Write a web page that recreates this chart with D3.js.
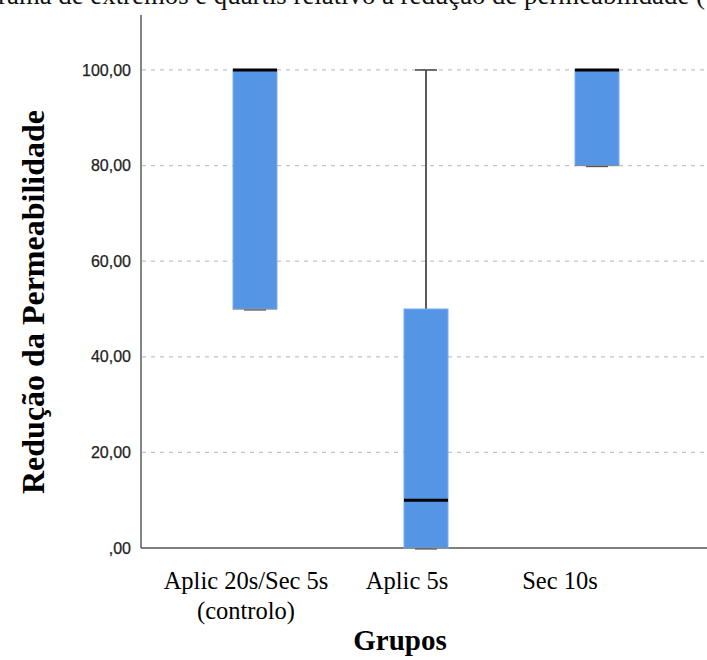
<!DOCTYPE html>
<html>
<head>
<meta charset="utf-8">
<script src="https://cdn.jsdelivr.net/npm/d3@7"></script>
<style>
  body { margin: 0; background: #fff; }
  svg { display: block; }
</style>
</head>
<body>
<div id="chart"></div>
<script>
// dados (caixa de extremos e quartis)
const grupos = ["Aplic 20s/Sec 5s|(controlo)", "Aplic 5s", "Sec 10s"];
const minimo = [50, 0, 80];
const q1 = [50, 0, 80];
const mediana = [100, 10, 100];
const q3 = [100, 50, 100];
const maximo = [100, 100, 100];
const yTicks = [0, 20, 40, 60, 80, 100];
const titulo = "Diagrama de extremos e quartis relativo à redução de permeabilidade (%)";

const W = 707, H = 660;
const svg = d3.select("#chart").append("svg")
    .attr("width", W)
    .attr("height", H);

// titulo cortado no topo (só a parte de baixo aparece)
svg.append("text")
    .attr("x", -54)
    .attr("y", 4)
    .style("font-family", "'Liberation Serif', 'Times New Roman', serif")
    .style("font-size", "26.8px")
    .style("fill", "#111")
    .text(titulo);

const x = d3.scalePoint()
    .domain(grupos)
    .range([143, 709])
    .padding(0.655);

const y = d3.scaleLinear()
    .domain([0, 111.5])
    .range([548, 15]);

// linhas de grelha
svg.append("g")
    .selectAll("line")
    .data(yTicks.filter(d => d > 0))
    .join("line")
    .attr("x1", 142)
    .attr("x2", W)
    .attr("y1", d => y(d))
    .attr("y2", d => y(d))
    .attr("stroke", "#c4c4c4")
    .attr("stroke-width", 1.2)
    .style("stroke-dasharray", ("4, 5"));

// eixo y
const yAxis = d3.axisLeft(y)
    .tickValues(yTicks)
    .tickSize(0)
    .tickPadding(10)
    .tickFormat(d => d === 0 ? ",00" : d3.format(".2f")(d).replace(".", ","));

const gy = svg.append("g")
    .attr("transform", "translate(141,0)")
    .call(yAxis);
gy.select(".domain").remove();
gy.selectAll("text")
    .style("font-family", "'Liberation Sans', Arial, sans-serif")
    .style("font-size", "16px")
    .style("fill", "#222")
    .style("stroke", "#222")
    .style("stroke-width", 0.25);

svg.append("line")
    .attr("x1", 141).attr("x2", 141)
    .attr("y1", y(111.5)).attr("y2", y(0))
    .attr("stroke", "#666")
    .attr("stroke-width", 1.6);

svg.append("line")
    .attr("x1", 141).attr("x2", W)
    .attr("y1", y(0)).attr("y2", y(0))
    .attr("stroke", "#555")
    .attr("stroke-width", 1.6);

// caixas
const larg = 44;
const caixas = svg.append("g");

grupos.forEach(function (g, i) {
    const cx = x(g);
    if (maximo[i] > q3[i]) {
        caixas.append("line")
            .attr("x1", cx).attr("x2", cx)
            .attr("y1", y(q3[i])).attr("y2", y(maximo[i]))
            .attr("stroke", "#333").attr("stroke-width", 1.6);
        caixas.append("line")
            .attr("x1", cx - 11).attr("x2", cx + 11)
            .attr("y1", y(maximo[i])).attr("y2", y(maximo[i]))
            .attr("stroke", "#444").attr("stroke-width", 1.5);
    }
    if (minimo[i] < q1[i]) {
        caixas.append("line")
            .attr("x1", cx).attr("x2", cx)
            .attr("y1", y(minimo[i])).attr("y2", y(q1[i]))
            .attr("stroke", "#333").attr("stroke-width", 1.6);
    }
    caixas.append("rect")
        .attr("x", cx - larg / 2)
        .attr("y", y(q3[i]))
        .attr("width", larg)
        .attr("height", y(q1[i]) - y(q3[i]))
        .attr("fill", "#5595e5")
        .attr("stroke", "#7eaeec")
        .attr("stroke-width", 1);
    caixas.append("line")
        .attr("x1", cx - larg / 2).attr("x2", cx + larg / 2)
        .attr("y1", y(q1[i])).attr("y2", y(q1[i]))
        .attr("stroke", "#888").attr("stroke-width", 1);
    // bigode inferior (cap)
    caixas.append("line")
        .attr("x1", cx - 11).attr("x2", cx + 11)
        .attr("y1", y(minimo[i]) + 1).attr("y2", y(minimo[i]) + 1)
        .attr("stroke", "#555").attr("stroke-width", 1.2);
    caixas.append("line")
        .attr("x1", cx - larg / 2).attr("x2", cx + larg / 2)
        .attr("y1", y(mediana[i])).attr("y2", y(mediana[i]))
        .attr("stroke", "#000").attr("stroke-width", 3);
});

// rotulos das categorias (colados por cima, ligeiramente desalinhados)
const xr = d3.scalePoint()
    .domain(grupos)
    .range([246, 560]);

const rot = svg.append("g")
    .style("font-family", "'Liberation Serif', 'Times New Roman', serif")
    .style("font-size", "24.5px")
    .style("fill", "#000")
    .attr("text-anchor", "middle");

grupos.forEach(function (g, i) {
    const partes = g.split("|");
    const cx = i === 1 ? 407 : xr(g);
    partes.forEach(function (p, k) {
        rot.append("text")
            .attr("x", cx)
            .attr("y", 589 + k * 30)
            .text(p);
    });
});

svg.append("text")
    .attr("x", 400)
    .attr("y", 650)
    .attr("text-anchor", "middle")
    .style("font-family", "'Liberation Serif', 'Times New Roman', serif")
    .style("font-weight", "bold")
    .style("font-size", "29px")
    .text("Grupos");

svg.append("text")
    .attr("transform", "translate(44,302) rotate(-90)")
    .attr("text-anchor", "middle")
    .style("font-family", "'Liberation Serif', 'Times New Roman', serif")
    .style("font-weight", "bold")
    .style("font-size", "32px")
    .text("Redução da Permeabilidade");
</script>
</body>
</html>
